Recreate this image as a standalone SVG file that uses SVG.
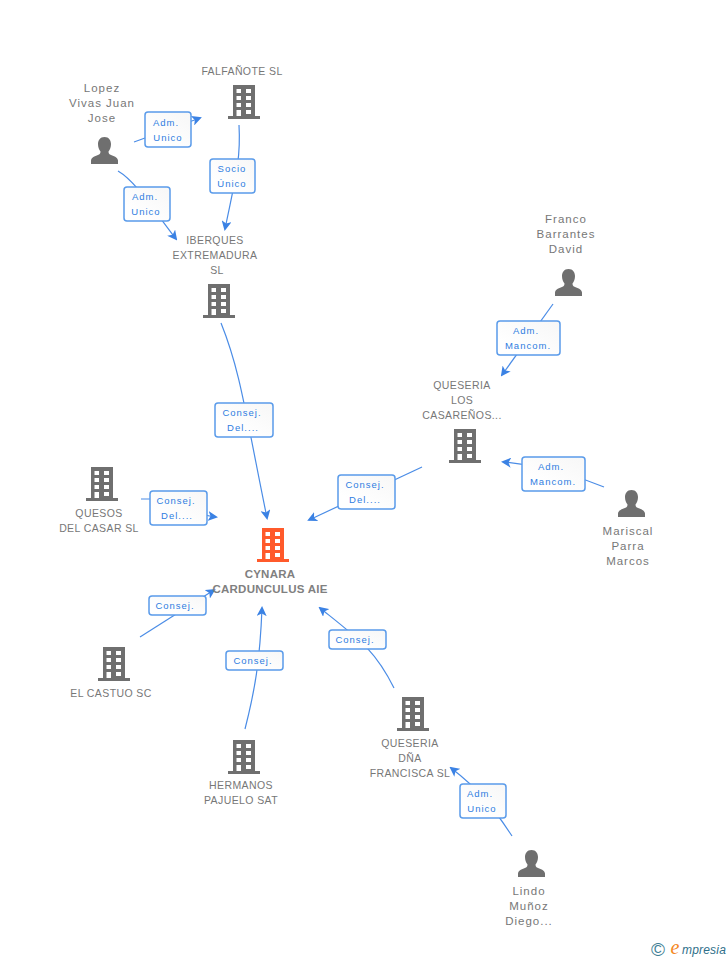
<svg xmlns="http://www.w3.org/2000/svg" width="728" height="960" viewBox="0 0 728 960">
<style>
text{font-family:"Liberation Sans",Arial,sans-serif;text-anchor:middle}
.n{fill:#777;font-size:10.5px;letter-spacing:.4px}
.p{fill:#777;font-size:11.500px;letter-spacing:1px}
.b{font-weight:bold;fill:#808080;letter-spacing:.25px;font-size:11.500px}
.l{fill:#2f7de1;font-size:9.5px;letter-spacing:1px}
.c{fill:none;stroke:#4a8ce6;stroke-width:1.2}
.r{fill:url(#bg);stroke:#5a9bea;stroke-width:1.5}
.g{fill:#6f6f6f}
.o{fill:#ff5a2b}
</style>
<defs>
<marker id="a" viewBox="0 0 10 10" refX="8" refY="5" markerWidth="10" markerHeight="10" markerUnits="userSpaceOnUse" orient="auto"><path d="M0 0L10 5L0 10L2.500 5Z" fill="#3b82e4"/></marker>
<path id="bld" fill-rule="evenodd" d="M0 0H22V31H27V34H-5V31H0ZM3.500 4V8H8V4ZM13 4V8H18V4ZM3.500 11V15H8V11ZM13 11V15H18V11ZM3.500 18V22H8V18ZM13 18V22H18V18ZM3.500 25V31H8V25ZM13 25V29H18V25Z"/>
<path id="per" d="M0 0C-4.500 0-6.500 3.500-6.500 7C-6.500 10-5.500 12.500-4 14.500C-4 16-4.500 17-6 17.800C-9 19-13 20-13.500 23.500V27H13.500V23.500C13 20 9 19 6 17.800C4.500 17 4 16 4 14.500C5.500 12.500 6.500 10 6.500 7C6.500 3.500 4.500 0 0 0Z"/>
<linearGradient id="bg" x1="1" y1="0" x2="0.300" y2="0.800"><stop offset="0" stop-color="#f7f7f7"/><stop offset="1" stop-color="#fff"/></linearGradient>
</defs>
<g id="connectors">
<path class="c" marker-end="url(#a)" d="M134 142L200 118"/>
<path class="c" marker-end="url(#a)" d="M118 171C135 181 150 205 176 239"/>
<path class="c" marker-end="url(#a)" d="M239 125C241 160 235 180 225 229"/>
<path class="c" marker-end="url(#a)" d="M221 323C240 370 245 410 267 518"/>
<path class="c" marker-end="url(#a)" d="M553 304L502 375"/>
<path class="c" marker-end="url(#a)" d="M604 487C575 475 540 465 503 462"/>
<path class="c" marker-end="url(#a)" d="M422 467L309 520"/>
<path class="c" marker-end="url(#a)" d="M141 499H150C170 499 190 514 216 517"/>
<path class="c" marker-end="url(#a)" d="M140 637L214 590"/>
<path class="c" marker-end="url(#a)" d="M245 729C255 690 260 660 262 608"/>
<path class="c" marker-end="url(#a)" d="M394 688C375 650 360 640 320 608"/>
<path class="c" marker-end="url(#a)" d="M512 836C495 810 480 790 451 768"/>
</g>
<g id="cynara"><use href="#bld" x="262" y="528" class="o"/><text class="b" x="270" y="578">CYNARA</text><text class="b" x="270" y="593">CARDUNCULUS AIE</text></g>
<g id="falfanote"><use href="#bld" x="233" y="85" class="g"/><text class="n" x="242" y="75">FALFAÑOTE SL</text></g>
<g id="lopez"><use href="#per" x="104.500" y="137" class="g"/><text class="p" x="102" y="92">Lopez</text><text class="p" x="102" y="107">Vivas Juan</text><text class="p" x="102" y="122">Jose</text></g>
<g id="iberques"><use href="#bld" x="208" y="284" class="g"/><text class="n" x="215" y="244">IBERQUES</text><text class="n" x="215" y="259">EXTREMADURA</text><text class="n" x="217" y="274">SL</text></g>
<g id="franco"><use href="#per" x="568.500" y="269" class="g"/><text class="p" x="566" y="223">Franco</text><text class="p" x="566" y="238">Barrantes</text><text class="p" x="566" y="253">David</text></g>
<g id="queseria-los"><use href="#bld" x="454" y="429" class="g"/><text class="n" x="462" y="389">QUESERIA</text><text class="n" x="462" y="404">LOS</text><text class="n" x="462" y="419">CASAREÑOS...</text></g>
<g id="mariscal"><use href="#per" x="631.500" y="490" class="g"/><text class="p" x="628" y="535">Mariscal</text><text class="p" x="628" y="550">Parra</text><text class="p" x="628" y="565">Marcos</text></g>
<g id="quesos"><use href="#bld" x="91" y="467" class="g"/><text class="n" x="99" y="517">QUESOS</text><text class="n" x="99" y="532">DEL CASAR SL</text></g>
<g id="castuo"><use href="#bld" x="103" y="647" class="g"/><text class="n" x="111" y="697">EL CASTUO SC</text></g>
<g id="hermanos"><use href="#bld" x="233" y="740" class="g"/><text class="n" x="241" y="789">HERMANOS</text><text class="n" x="241" y="804">PAJUELO SAT</text></g>
<g id="queseria-dna"><use href="#bld" x="402" y="697" class="g"/><text class="n" x="410" y="747">QUESERIA</text><text class="n" x="410" y="762">DÑA</text><text class="n" x="410" y="777">FRANCISCA SL</text></g>
<g id="lindo"><use href="#per" x="531.500" y="850" class="g"/><text class="p" x="529" y="895">Lindo</text><text class="p" x="529" y="910">Muñoz</text><text class="p" x="529" y="925">Diego...</text></g>
<g id="labels">
<rect class="r" x="145" y="112" width="46" height="35" rx="3"/><text class="l" x="166" y="126">Adm.</text><text class="l" x="168" y="141">Unico</text>
<rect class="r" x="124" y="187" width="46" height="34" rx="3"/><text class="l" x="145" y="200">Adm.</text><text class="l" x="146" y="215">Unico</text>
<rect class="r" x="210" y="159" width="45" height="34" rx="3"/><text class="l" x="232" y="172">Socio</text><text class="l" x="232" y="187">Único</text>
<rect class="r" x="215" y="403" width="58" height="34" rx="3"/><text class="l" x="242" y="416">Consej.</text><text class="l" x="243" y="431">Del....</text>
<rect class="r" x="497" y="321" width="63" height="34" rx="3"/><text class="l" x="526" y="334">Adm.</text><text class="l" x="528" y="349">Mancom.</text>
<rect class="r" x="522" y="457" width="63" height="34" rx="3"/><text class="l" x="551" y="470">Adm.</text><text class="l" x="553" y="485">Mancom.</text>
<rect class="r" x="338" y="475" width="57" height="34" rx="3"/><text class="l" x="365" y="488">Consej.</text><text class="l" x="365" y="503">Del....</text>
<rect class="r" x="150" y="491" width="57" height="34" rx="3"/><text class="l" x="176" y="504">Consej.</text><text class="l" x="177" y="519">Del....</text>
<rect class="r" x="149" y="596" width="57" height="19" rx="3"/><text class="l" x="175" y="609">Consej.</text>
<rect class="r" x="226" y="651" width="57" height="19" rx="3"/><text class="l" x="253" y="664">Consej.</text>
<rect class="r" x="329" y="630" width="57" height="19" rx="3"/><text class="l" x="355" y="643">Consej.</text>
<rect class="r" x="460" y="784" width="46" height="34" rx="3"/><text class="l" x="480" y="797">Adm.</text><text class="l" x="482" y="812">Unico</text>
</g>
<g id="logo">
<text x="658" y="956" style="font-size:19px;fill:#3f7f96">©</text>
<text x="675" y="954" style="font-family:'Liberation Serif',serif;font-style:italic;font-size:20px;fill:#f5881f">e</text>
<text x="704" y="954" style="font-style:italic;font-size:12px;letter-spacing:.2px;fill:#2f6f8a">mpresia</text>
</g>
</svg>
